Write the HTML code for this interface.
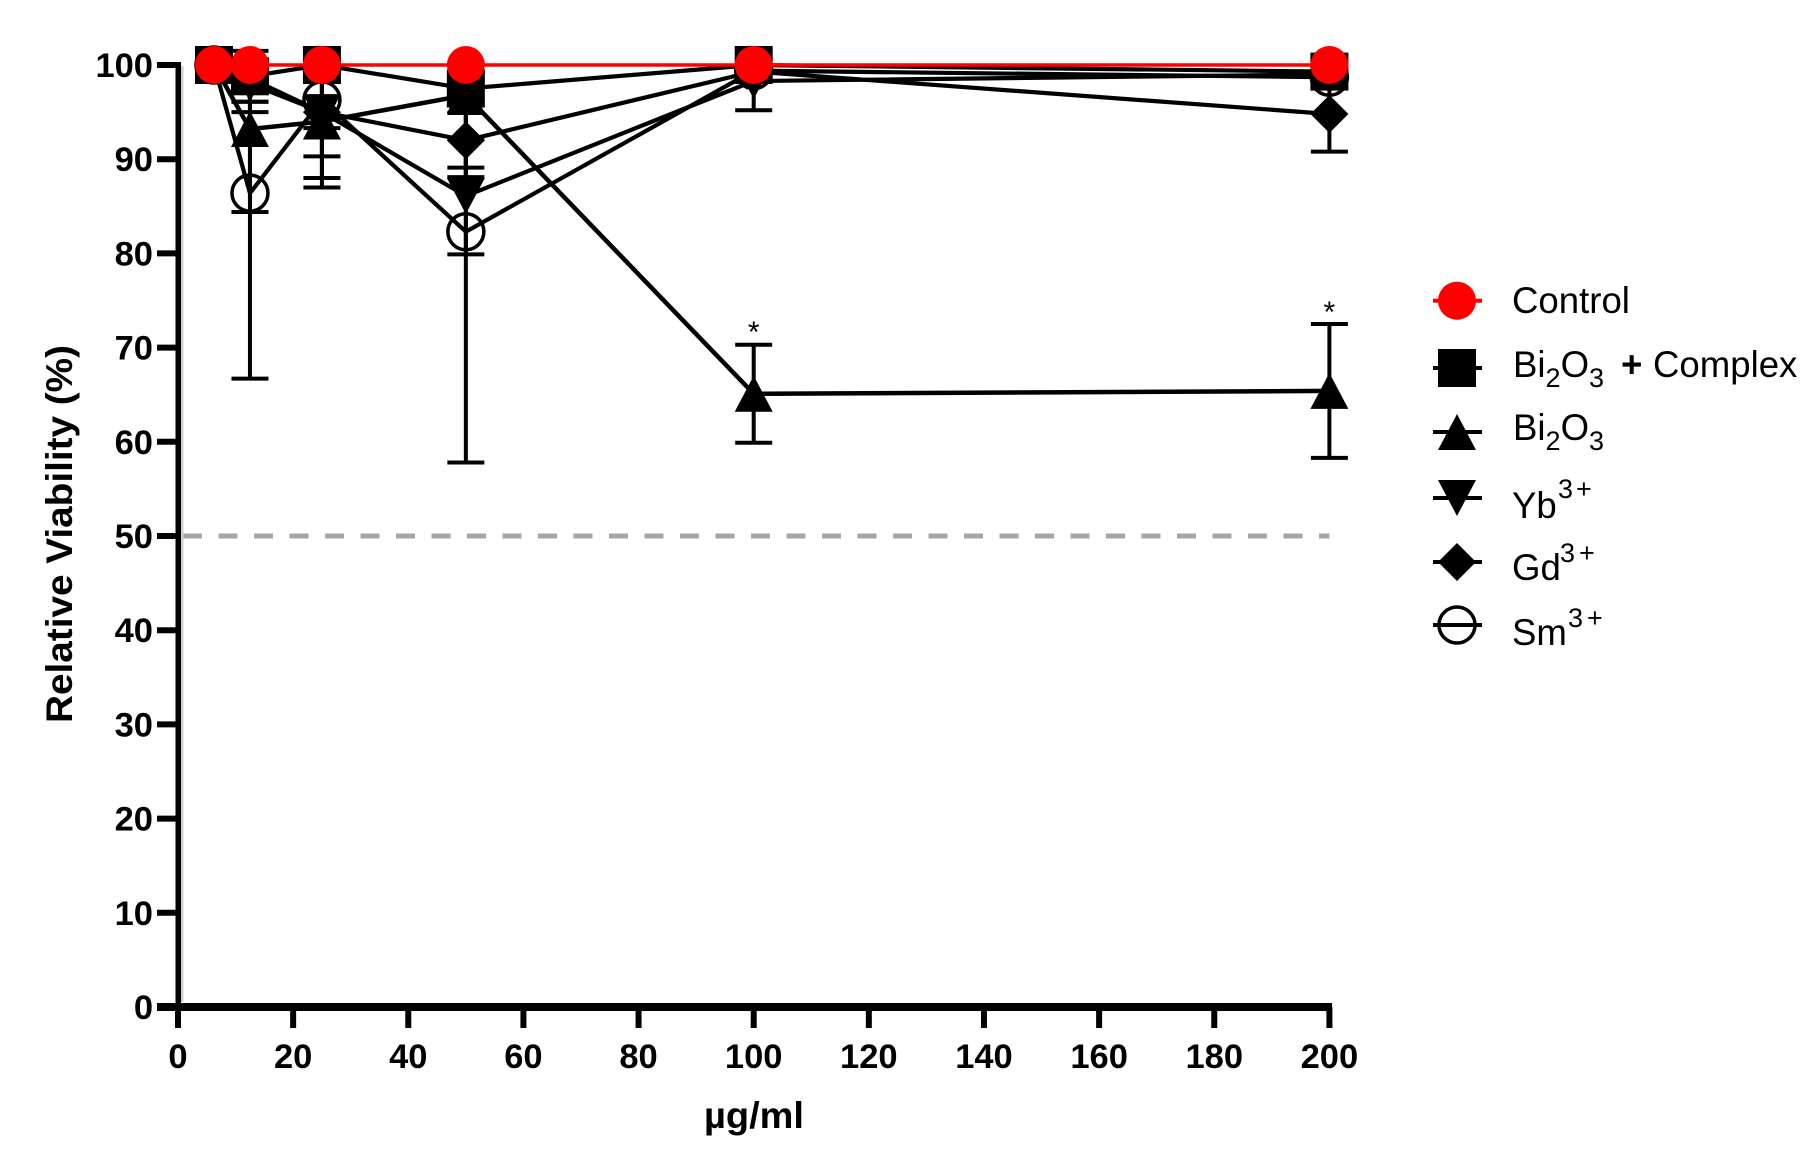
<!DOCTYPE html>
<html lang="en">
<head>
<meta charset="utf-8">
<title>Relative Viability Chart</title>
<style>
  html, body { margin: 0; padding: 0; background: #fff; }
  body { width: 1815px; height: 1161px; overflow: hidden; }
  svg { display: block; }
  text { font-family: "Liberation Sans", sans-serif; fill: #000; }
  .tick-label { font-size: 34.5px; font-weight: 700; }
  .axis-title { font-size: 37px; font-weight: 700; }
  .legend-text { font-size: 36.6px; }
  .legend-small { font-size: 27px; }
</style>
</head>
<body>
<svg id="chart" width="1815" height="1161" viewBox="0 0 1815 1161" xmlns="http://www.w3.org/2000/svg">
  <defs>
    <clipPath id="error-clip"><rect x="150" y="66" width="1300" height="980"></rect></clipPath>
  </defs>
  <rect x="0" y="0" width="1815" height="1161" fill="#fff"></rect>
  <g id="reference-layer"></g>
  <g id="axes-layer"></g>
  <g id="series-layer"></g>
  <g id="annotation-layer"></g>
  <text class="axis-title" text-anchor="middle" transform="translate(72 534) rotate(-90)" textLength="378" lengthAdjust="spacingAndGlyphs">Relative Viability (%)</text>
  <text class="axis-title" x="754" y="1128" text-anchor="middle" textLength="100" lengthAdjust="spacingAndGlyphs">µg/ml</text>

  <g id="legend">
    <g>
      <text class="legend-text" x="1512" y="313">Control</text>
    </g>
    <g>
      <text class="legend-text" x="1513" y="377">Bi<tspan class="legend-small" dy="10">2</tspan><tspan dy="-10">O</tspan><tspan class="legend-small" dy="10">3</tspan><tspan dy="-10" x="1621" font-weight="700">+</tspan><tspan x="1653">Complex</tspan></text>
    </g>
    <g>
      <text class="legend-text" x="1513" y="440">Bi<tspan class="legend-small" dy="10">2</tspan><tspan dy="-10">O</tspan><tspan class="legend-small" dy="10">3</tspan></text>
    </g>
    <g>
      <text class="legend-text" x="1512" y="518">Yb<tspan class="legend-small" x="1558" dy="-20">3</tspan><tspan class="legend-small" x="1576">+</tspan></text>
    </g>
    <g>
      <text class="legend-text" x="1512" y="580">Gd<tspan class="legend-small" x="1560" dy="-18">3</tspan><tspan class="legend-small" x="1579">+</tspan></text>
    </g>
    <g>
      <text class="legend-text" x="1512" y="645">Sm<tspan class="legend-small" x="1568" dy="-18">3</tspan><tspan class="legend-small" x="1587">+</tspan></text>
    </g>
    <g id="legend-marks"></g>
  </g>
</svg>

<script>
// ---- chart data -------------------------------------------------------
const concentrations = [6.25, 12.5, 25, 50, 100, 200];
const xTickValues = [0, 20, 40, 60, 80, 100, 120, 140, 160, 180, 200];
const yTickValues = [0, 10, 20, 30, 40, 50, 60, 70, 80, 90, 100];
const cutoffValue = 50;

const smValues = [100, 86.4, 96.3, 82.3, 99.4, 98.7];
const smErrors = [1, 19.7, 3, 24.5, 0.6, 0.5];
const gdValues = [100, 98.6, 95, 92, 99.3, 94.8];
const gdErrors = [1, 2.5, 4.7, 2.9, 0.6, 4];
const ybValues = [100, 98, 95, 86.1, 98.3, 99];
const ybErrors = [1, 3, 7, 6.2, 3.1, 0.5];
const biValues = [100, 93.2, 94, 96.8, 65.1, 65.4];
const biErrors = [1, 8.8, 7, 8.7, 5.2, 7.1];
const complexValues = [100, 98.8, 100, 97.5, 100, 99.3];
const complexErrors = [0.5, 2.7, 0.5, 1.5, 0.5, 0.5];
const controlValues = [100, 100, 100, 100, 100, 100];

const legendMarkerRows = ['control', 'complex', 'bi', 'yb', 'gd', 'sm'];
const significanceDoses = [100, 200];
const significanceTops = [70.4, 72.5];

// ---- axis functions ---------------------------------------------------
const SVGNS = 'http://www.w3.org/2000/svg';
function xScale(v) { return 178 + v * 5.757; }
function yScale(v) { return 1007 - v * 9.42; }

function make(tag, parent, props) {
  const node = document.createElementNS(SVGNS, tag);
  Object.keys(props).forEach(function (k) { node.setAttribute(k, props[k]); });
  parent.appendChild(node);
  return node;
}

// ---- reference line ---------------------------------------------------
const referenceLayer = document.getElementById('reference-layer');
const cutoffLine = make('line', referenceLayer, {
  x1: 183, x2: xScale(200), y1: yScale(cutoffValue), y2: yScale(cutoffValue),
  stroke: '#a6a6a6', 'stroke-width': 5, 'stroke-dasharray': '19 16.5'
});



// ---- axes ---------------------------------------------------------------
const axesLayer = document.getElementById('axes-layer');

const yAxisShadow = make('rect', axesLayer, { x: 181, y: 66, width: 2.5, height: 936, fill: '#cfcfcf' });



const yAxisLine = make('rect', axesLayer, { x: 175.5, y: 62, width: 5.5, height: 948, fill: '#000' });



const xAxisLine = make('rect', axesLayer, { x: 157, y: 1003, width: 1175, height: 8, fill: '#000' });



yTickValues.forEach(function (v) {
  const tick = make('line', axesLayer, { x1: 157, x2: 177, y1: yScale(v), y2: yScale(v), stroke: '#000', 'stroke-width': 6 });
  
  
  const label = make('text', axesLayer, { x: 153, y: yScale(v) + 12, 'text-anchor': 'end', class: 'tick-label' });
  
  
  label.textContent = String(v);
});

xTickValues.forEach(function (v) {
  const tick = make('line', axesLayer, { x1: xScale(v), x2: xScale(v), y1: 1007, y2: 1028, stroke: '#000', 'stroke-width': 6 });
  
  
  const label = make('text', axesLayer, { x: xScale(v), y: 1068, 'text-anchor': 'middle', class: 'tick-label' });
  
  
  label.textContent = String(v);
});

// ---- marker shapes ------------------------------------------------------
function drawMarker(parent, kind, cx, cy) {
  let node;
  if (kind === 'control') {
    node = make('circle', parent, { cx: cx, cy: cy, r: 19, fill: '#ff0000' });
  } else if (kind === 'complex') {
    node = make('rect', parent, { x: cx - 19, y: cy - 19, width: 38, height: 38, fill: '#000' });
  } else if (kind === 'bi') {
    node = make('polygon', parent, { points: (cx) + ',' + (cy - 18) + ' ' + (cx + 19) + ',' + (cy + 18) + ' ' + (cx - 19) + ',' + (cy + 18), fill: '#000' });
  } else if (kind === 'yb') {
    node = make('polygon', parent, { points: (cx - 19) + ',' + (cy - 18) + ' ' + (cx + 19) + ',' + (cy - 18) + ' ' + (cx) + ',' + (cy + 18), fill: '#000' });
  } else if (kind === 'gd') {
    node = make('polygon', parent, { points: (cx) + ',' + (cy - 19) + ' ' + (cx + 19) + ',' + (cy) + ' ' + (cx) + ',' + (cy + 19) + ' ' + (cx - 19) + ',' + (cy), fill: '#000' });
  } else {
    node = make('circle', parent, { cx: cx, cy: cy, r: 18, fill: 'none', stroke: '#000', 'stroke-width': 3.5 });
  }
  return node;
}

// ---- series ---------------------------------------------------------------
const seriesLayer = document.getElementById('series-layer');

function drawSeries(seriesName, kind, values, errors, color, lineWidth, clipErrors) {
  const group = make('g', seriesLayer, {});
  
  

  const points = values.map(function (v, i) { return xScale(concentrations[i]) + ',' + yScale(v); }).join(' ');
  const path = make('polyline', group, { points: points, fill: 'none', stroke: color, 'stroke-width': lineWidth });
  
  

  if (errors) {
    const errorGroup = make('g', group, {});
    
    
    if (clipErrors) { errorGroup.setAttribute('clip-path', 'url(#error-clip)'); }
    values.forEach(function (v, i) {
      const x = xScale(concentrations[i]);
      const lo = yScale(v - errors[i]);
      const hi = yScale(v + errors[i]);
      const bar = make('line', errorGroup, { x1: x, x2: x, y1: hi, y2: lo, stroke: color, 'stroke-width': 4 });
      
      
      const capLow = make('line', errorGroup, { x1: x - 18.5, x2: x + 18.5, y1: lo, y2: lo, stroke: color, 'stroke-width': 4 });
      
      
      const capHigh = make('line', errorGroup, { x1: x - 18.5, x2: x + 18.5, y1: hi, y2: hi, stroke: color, 'stroke-width': 4 });
      
      
    });
  }

  values.forEach(function (v, i) {
    const marker = drawMarker(group, kind, xScale(concentrations[i]), yScale(v));
    
    
  });
}

drawSeries('sm', 'sm', smValues, smErrors, '#000', 4.2, true);
drawSeries('gd', 'gd', gdValues, gdErrors, '#000', 4.2, true);
drawSeries('yb', 'yb', ybValues, ybErrors, '#000', 4.2, true);
drawSeries('bi2o3', 'bi', biValues, biErrors, '#000', 4.5, true);
drawSeries('bi2o3-complex', 'complex', complexValues, complexErrors, '#000', 4.2, false);
drawSeries('control', 'control', controlValues, null, '#ff0000', 3.5, false);

// ---- significance stars ---------------------------------------------------
const annotationLayer = document.getElementById('annotation-layer');
significanceDoses.forEach(function (dose, i) {
  const star = make('text', annotationLayer, {
    x: xScale(dose), y: yScale(significanceTops[i]) - 2, 'text-anchor': 'middle', 'font-size': 30
  });
  
  
  star.textContent = '*';
});

// ---- legend markers ----------------------------------------------------------
const legendMarks = document.getElementById('legend-marks');
const legendRowY = [300.7, 368, 432, 498, 562, 625];
legendMarkerRows.forEach(function (kind, i) {
  const color = kind === 'control' ? '#ff0000' : '#000';
  const rowLine = make('line', legendMarks, { x1: 1433, x2: 1482, y1: legendRowY[i], y2: legendRowY[i], stroke: color, 'stroke-width': 4 });
  
  
  const rowMarker = drawMarker(legendMarks, kind, 1457, legendRowY[i]);
  
  
});
</script>
</body>
</html>
